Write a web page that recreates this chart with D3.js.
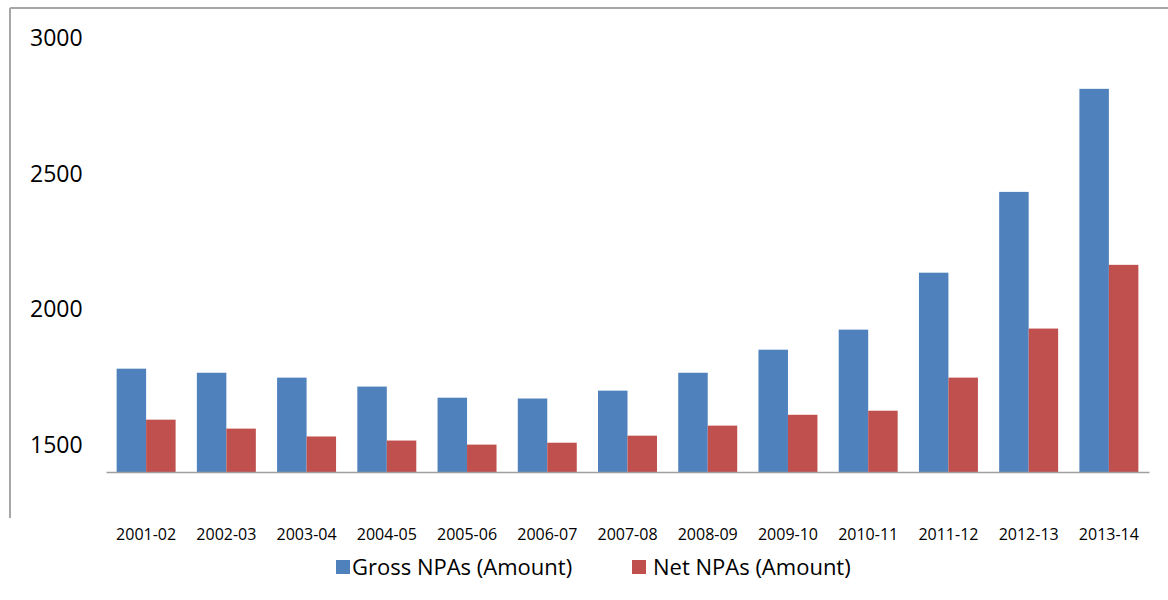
<!DOCTYPE html>
<html>
<head>
<meta charset="utf-8">
<script src="https://cdn.jsdelivr.net/npm/d3@7"></script>
<style>
  body { margin: 0; background: #fff; }
  svg { display: block; font-family: "Open Sans", sans-serif; }
</style>
</head>
<body>
<div id="chart"></div>
<script>
const years = ["2001-02", "2002-03", "2003-04", "2004-05", "2005-06", "2006-07", "2007-08",
    "2008-09", "2009-10", "2010-11", "2011-12", "2012-13", "2013-14"];
const grossNPA = [1781, 1766, 1748, 1715, 1674, 1671, 1700, 1766, 1851, 1925, 2135, 2433, 2813];
const netNPA = [1593, 1560, 1531, 1516, 1501, 1508, 1534, 1571, 1611, 1626, 1748, 1929, 2164];
const yTicks = [1500, 2000, 2500, 3000];
const seriesNames = ["Gross NPAs (Amount)", "Net NPAs (Amount)"];
const colors = ["#4f81bd", "#c0504d"];

function initBarChart(selector) {
    const width = 1168, height = 600;
    const svg = d3.select(selector).append("svg")
        .attr("width", width)
        .attr("height", height);

    // frame edges
    svg.append("line").attr("x1", 10).attr("x2", width).attr("y1", 8).attr("y2", 8)
        .attr("stroke", "#a6a6a6").attr("stroke-width", 2);
    svg.append("line").attr("x1", 10).attr("x2", 10).attr("y1", 8).attr("y2", 518)
        .attr("stroke", "#a6a6a6").attr("stroke-width", 2);

    const xScale = d3.scaleBand()
        .domain(years)
        .range([106, 1149])
        .paddingInner(0.265)
        .paddingOuter(0.1325);

    const inner = d3.scaleBand()
        .domain([0, 1])
        .range([0, xScale.bandwidth()]);

    const yScale = d3.scaleLinear()
        .domain([1400, 3030])
        .range([472, 30]);

    const rows = years.map((y, i) => ({year: y, values: [grossNPA[i], netNPA[i]]}));

    svg.append("g").selectAll("g")
        .data(rows)
        .join("g")
        .attr("transform", d => `translate(${xScale(d.year)},0)`)
        .selectAll("rect")
        .data(d => d.values.map((v, k) => ({k, v})))
        .join("rect")
        .attr("x", d => inner(d.k))
        .attr("width", inner.bandwidth())
        .attr("y", d => yScale(d.v))
        .attr("height", d => yScale(1400) - yScale(d.v))
        .attr("fill", d => colors[d.k]);

    const xAxis = svg.append("g")
        .attr("transform", `translate(0, ${yScale(1400)})`)
        .call(d3.axisBottom(xScale).tickSize(0).tickSizeOuter(0).tickPadding(57));
    xAxis.select(".domain").attr("stroke", "#a0a0a0").attr("stroke-width", 1.5);
    xAxis.selectAll("text").attr("font-size", 16).attr("fill", "#000")
        .attr("font-family", "Open Sans, sans-serif");

    const yAxis = svg.append("g")
        .attr("transform", "translate(30, 0)")
        .call(d3.axisRight(yScale).tickValues(yTicks).tickFormat(d3.format("d"))
            .tickSize(0).tickPadding(0));
    yAxis.select(".domain").remove();
    yAxis.selectAll("text").attr("font-size", 23).attr("fill", "#000")
        .attr("font-family", "Open Sans, sans-serif");

    const legendX = [336, 632];
    const legend = svg.append("g").selectAll("g")
        .data(seriesNames)
        .join("g")
        .attr("transform", (d, i) => `translate(${legendX[i]}, 560)`);
    legend.append("rect").attr("width", 14).attr("height", 14)
        .attr("fill", (d, i) => colors[i]);
    legend.append("text").attr("x", (d, i) => i === 0 ? 16 : 21).attr("y", 7).attr("dy", "0.35em")
        .attr("font-size", 22).text(d => d);
}

document.addEventListener('DOMContentLoaded', function () {
    initBarChart("#chart");
});
</script>
</body>
</html>
